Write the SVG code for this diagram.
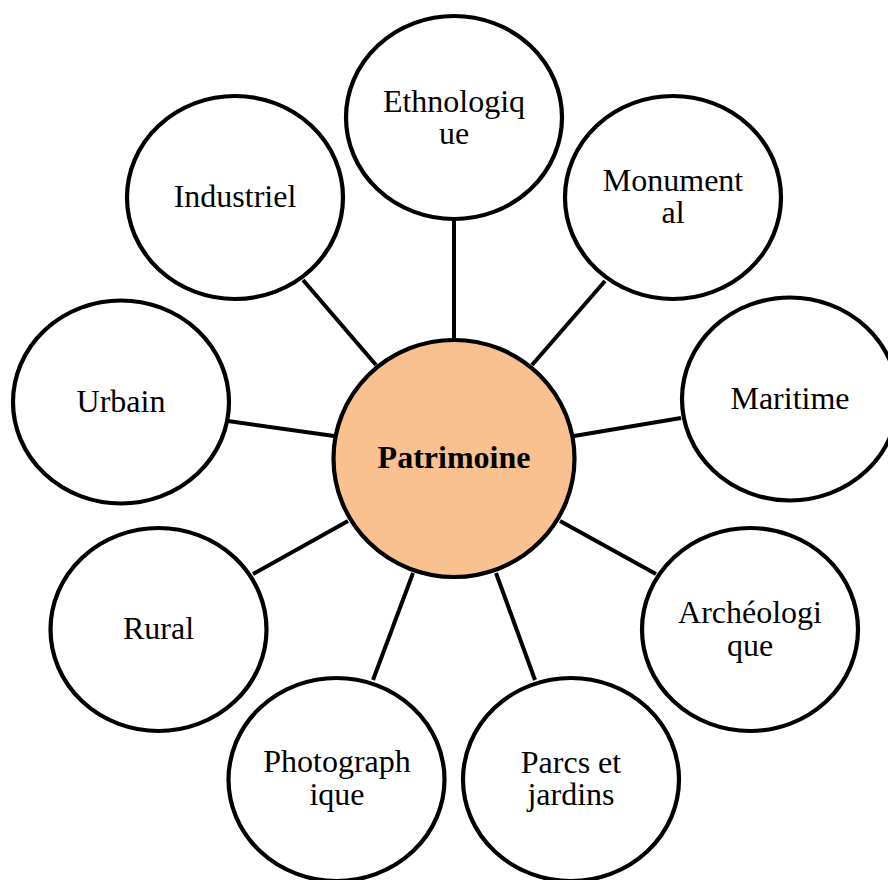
<svg xmlns="http://www.w3.org/2000/svg" width="888" height="880" viewBox="0 0 888 880">
<style>
.n{fill:#fff;stroke:#000;stroke-width:4.2}
.c{fill:#F9C190;stroke:#000;stroke-width:4.2}
.l{stroke:#000;stroke-width:4;fill:none}
text{font-family:"Liberation Serif","Times New Roman",serif;font-size:32px;text-anchor:middle;fill:#000}
.b{font-weight:bold}
</style>
<rect width="888" height="880" fill="#fff"/>
<g id="connectors">
<line class="l" x1="454" y1="219" x2="454" y2="341"/>
<line class="l" x1="605" y1="281" x2="532" y2="365"/>
<line class="l" x1="681" y1="418" x2="574" y2="436"/>
<line class="l" x1="656" y1="574" x2="560" y2="521"/>
<line class="l" x1="535" y1="680" x2="496" y2="573"/>
<line class="l" x1="373" y1="680" x2="413" y2="573"/>
<line class="l" x1="253" y1="574" x2="348" y2="521"/>
<line class="l" x1="228" y1="421" x2="334" y2="436"/>
<line class="l" x1="303" y1="280" x2="376" y2="365"/>
</g>
<g id="ethnologique">
<ellipse class="n" cx="454" cy="117.5" rx="108" ry="101.5"/>
<text x="454" y="112">Ethnologiq</text>
<text x="454" y="144">ue</text>
</g>
<g id="monumental">
<ellipse class="n" cx="673" cy="197.5" rx="108" ry="101.5"/>
<text x="673" y="191">Monument</text>
<text x="673" y="223">al</text>
</g>
<g id="maritime">
<ellipse class="n" cx="790" cy="399" rx="108" ry="101.5"/>
<text x="790" y="409">Maritime</text>
</g>
<g id="archeologique">
<ellipse class="n" cx="750" cy="629.5" rx="108" ry="101.5"/>
<text x="750" y="623">Archéologi</text>
<text x="750" y="656">que</text>
</g>
<g id="parcs">
<ellipse class="n" cx="571" cy="779.5" rx="108" ry="101.5"/>
<text x="571" y="773">Parcs et</text>
<text x="571" y="805">jardins</text>
</g>
<g id="photographique">
<ellipse class="n" cx="336.5" cy="779.5" rx="108" ry="101.5"/>
<text x="337" y="772">Photograph</text>
<text x="337" y="805">ique</text>
</g>
<g id="rural">
<ellipse class="n" cx="158.5" cy="629.5" rx="108" ry="101.5"/>
<text x="158.5" y="639">Rural</text>
</g>
<g id="urbain">
<ellipse class="n" cx="121" cy="402" rx="108" ry="101.5"/>
<text x="121" y="412">Urbain</text>
</g>
<g id="industriel">
<ellipse class="n" cx="235" cy="197.5" rx="108" ry="101.5"/>
<text x="235" y="207">Industriel</text>
</g>
<g id="patrimoine">
<ellipse class="c" cx="454" cy="458.5" rx="120.5" ry="118.5"/>
<text class="b" x="454" y="468">Patrimoine</text>
</g>
</svg>
